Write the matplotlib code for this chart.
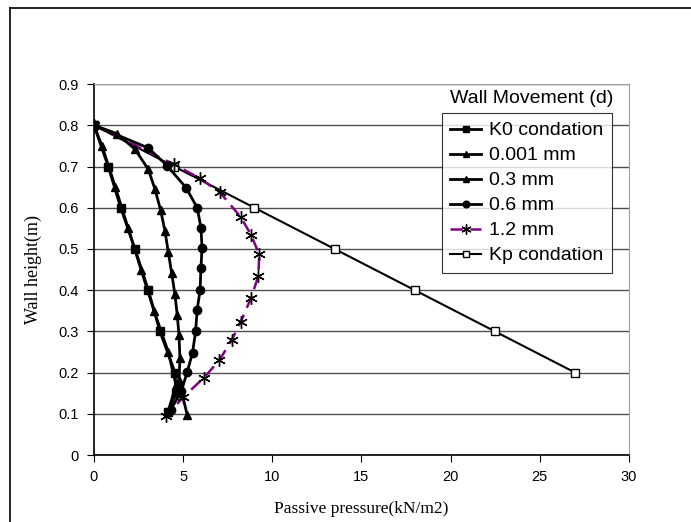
import matplotlib
matplotlib.use("Agg")
import matplotlib.pyplot as plt
from matplotlib.lines import Line2D

# series (x = passive pressure, y = wall height)
k0_x = [0, 0.8, 1.5, 2.3, 3.05, 3.7, 4.55, 4.6, 4.15]
k0_y = [0.8, 0.7, 0.6, 0.5, 0.4, 0.3, 0.2, 0.15, 0.105]

d0001_x = [0, 0.45, 1.2, 1.92, 2.64, 3.37, 4.17, 4.6, 4.15]
d0001_y = [0.8, 0.75, 0.65, 0.55, 0.45, 0.35, 0.25, 0.17, 0.105]

d03_x = [0, 1.27, 2.3, 3.05, 3.42, 3.74, 3.98, 4.17, 4.36, 4.54, 4.67, 4.77, 4.82, 4.77, 5.23]
d03_y = [0.8, 0.78, 0.742, 0.693, 0.645, 0.594, 0.544, 0.492, 0.441, 0.39, 0.34, 0.291, 0.235, 0.182, 0.097]

d06_x = [0, 3.05, 4.1, 5.16, 5.79, 6.0, 6.06, 6.0, 5.95, 5.79, 5.7, 5.53, 5.23, 4.9, 4.3]
d06_y = [0.8, 0.745, 0.702, 0.649, 0.6, 0.552, 0.503, 0.453, 0.4, 0.353, 0.3, 0.249, 0.202, 0.155, 0.11]

d12_x = [0, 4.5, 5.95, 7.07, 8.24, 8.8, 9.27, 9.22, 8.8, 8.23, 7.72, 7.03, 6.17, 5.01, 4.06]
d12_y = [0.8, 0.705, 0.671, 0.637, 0.577, 0.535, 0.487, 0.434, 0.38, 0.323, 0.279, 0.23, 0.188, 0.141, 0.095]

kp_x = [0, 4.5, 9, 13.5, 18, 22.5, 27]
kp_y = [0.8, 0.7, 0.6, 0.5, 0.4, 0.3, 0.2]

fig = plt.figure(figsize=(6.91, 5.22), dpi=100)
ax = fig.add_axes([0.136, 0.128, 0.774, 0.711])

star = (6, 2, 0)
ax.plot(kp_x, kp_y, color="black", lw=1.5, marker="s", ms=6, mfc="white", mec="black", mew=1, label="Kp condation", zorder=3)
ax.plot(d12_x, d12_y, color="#800080", lw=1.8, ls=(0, (5, 3)), marker=star, ms=9, mec="black", mew=1, label="1.2 mm", zorder=4)
ax.plot(d06_x, d06_y, color="black", lw=2, marker="o", ms=6, label="0.6 mm", zorder=5)
ax.plot(d03_x, d03_y, color="black", lw=2, marker="^", ms=6, label="0.3 mm", zorder=5)
ax.plot(d0001_x, d0001_y, color="black", lw=2, marker="^", ms=6, label="0.001 mm", zorder=5)
ax.plot(k0_x, k0_y, color="black", lw=2, marker="s", ms=6, label="K0 condation", zorder=5)

ax.set_xlim(0, 30)
ax.set_ylim(0, 0.9)
ax.set_xticks(range(0, 31, 5))
ax.set_yticks([i / 10 for i in range(10)])
ax.set_yticklabels(["0"] + [f"{i / 10:.1f}" for i in range(1, 10)])
ax.yaxis.grid(True, color="#505050", lw=1.0)
ax.set_axisbelow(True)
for s in ["top", "right"]:
    ax.spines[s].set_color("#a0a0a0")
ax.spines["left"].set_linewidth(1.2)
ax.spines["bottom"].set_linewidth(1.2)
ax.tick_params(direction="out", length=5, labelsize=10.5, pad=6)
for t in ax.get_xticklabels() + ax.get_yticklabels():
    t.set_fontfamily("Liberation Sans")

ax.set_xlabel("Passive pressure(kN/m2)", family="Liberation Serif", fontsize=12.5, labelpad=12)
ax.set_ylabel("Wall height(m)", family="Liberation Serif", fontsize=13, labelpad=12)

h, l = ax.get_legend_handles_labels()
leg = ax.legend(h[::-1], l[::-1], loc="upper left", bbox_to_anchor=(0.650, 0.922),
                prop={"family": "Liberation Sans", "size": 14}, frameon=True, fancybox=False,
                edgecolor="black", handlelength=1.6, handletextpad=0.4, labelspacing=0.38,
                borderpad=0.45, borderaxespad=0, markerscale=0.8)
leg.get_frame().set_linewidth(0.8)
ax.text(0.818, 0.962, "Wall Movement (d)", transform=ax.transAxes, ha="center", va="center",
        family="Liberation Sans", fontsize=14)

# outer chart frame (left and top edges visible)
fig.add_artist(Line2D([10 / 691, 10 / 691], [0, 1 - 8 / 522], transform=fig.transFigure, color="black", lw=1.2))
fig.add_artist(Line2D([10 / 691, 1], [1 - 8 / 522, 1 - 8 / 522], transform=fig.transFigure, color="black", lw=1.2))

fig.savefig("out.png", dpi=100)
